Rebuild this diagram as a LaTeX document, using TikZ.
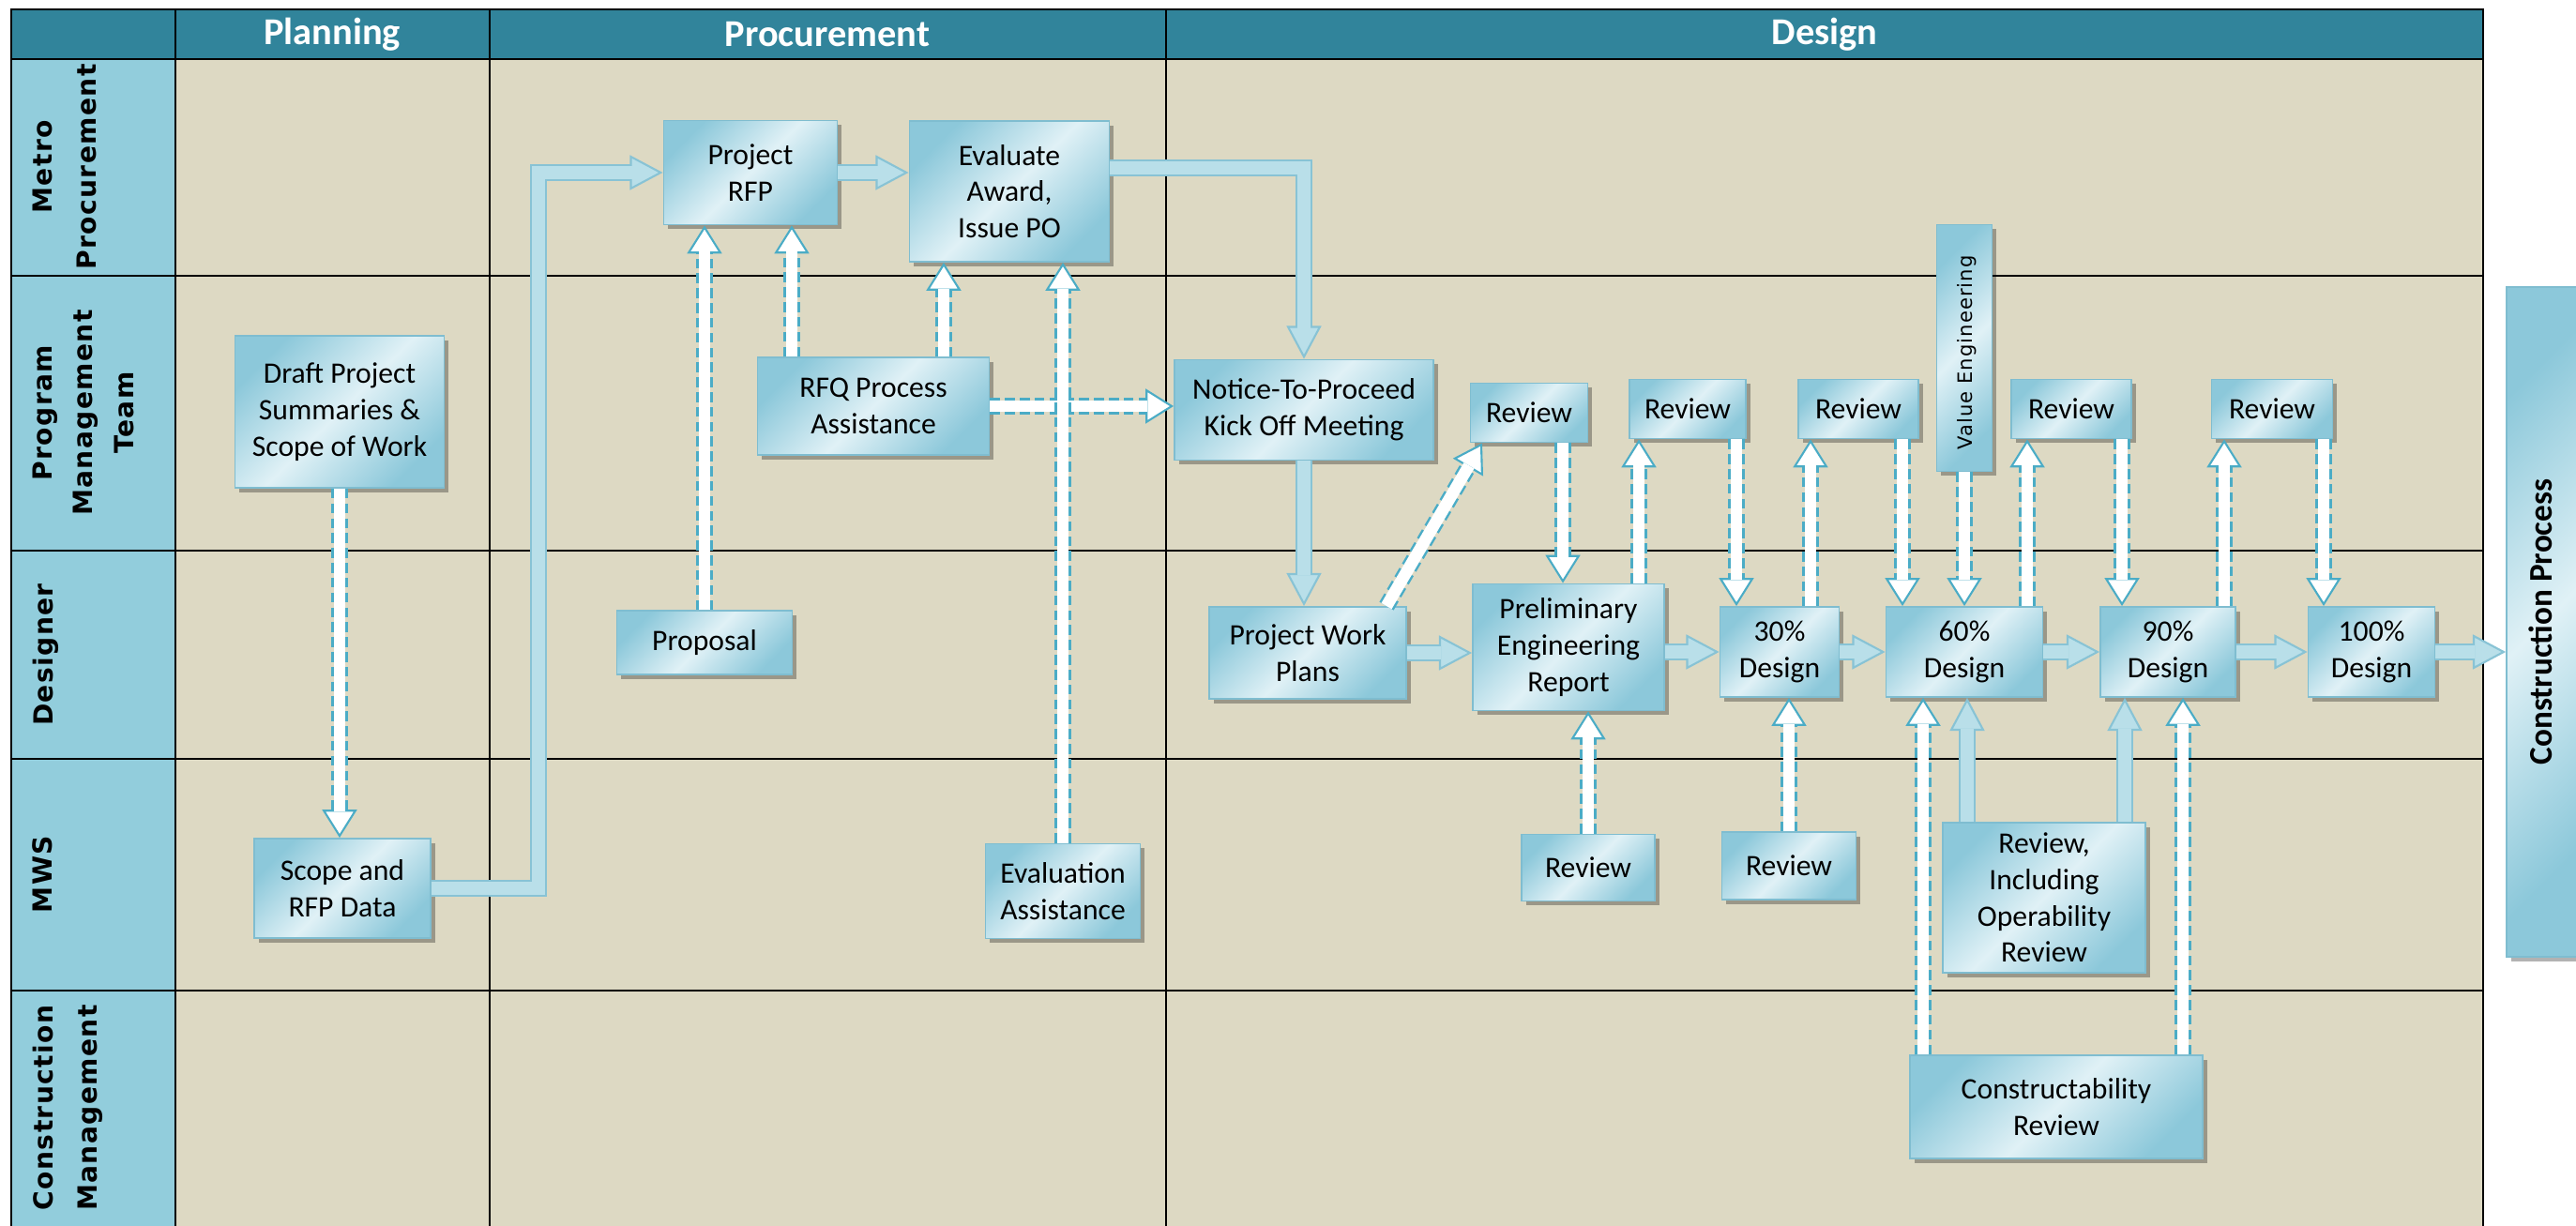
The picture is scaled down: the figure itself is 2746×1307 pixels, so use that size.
\documentclass[tikz,border=0pt]{standalone}
\usepackage{fontspec}
\setmainfont{Carlito}
\newfontfamily\lanefont[LetterSpace=5]{DejaVu Sans}
\usepackage{tikz}
\usetikzlibrary{arrows.meta}
\usetikzlibrary{shadows}
\definecolor{headteal}{HTML}{31849B}
\definecolor{lanecol}{HTML}{92CDDC}
\definecolor{tanbg}{HTML}{DDD9C3}
\definecolor{boxdk}{HTML}{8CC8DA}
\definecolor{boxlt}{HTML}{E0F1F6}
\definecolor{boxline}{HTML}{7FBDD0}
\definecolor{arrfill}{HTML}{B9DFE9}
\definecolor{arrline}{HTML}{88C3D5}
\definecolor{dashteal}{HTML}{4BACC6}
\tikzset{proc/.style = {draw = boxline, line width = 0.5pt, left color = boxdk, right color = boxdk,
    middle color = boxlt, shading angle = 45, inner sep = 0pt, align = center,
    font = \fontsize{9}{11}\selectfont,
    drop shadow = {shadow xshift = 1.3pt, shadow yshift = -1.3pt, fill = black, opacity = 0.3}}}
\tikzset{headtxt/.style = {text = white, font = \bfseries\fontsize{11.5}{13}\selectfont}}
\tikzset{lanelbl/.style = {rotate = 90, anchor = north, align = center, inner sep = 0pt,
    font = \lanefont\bfseries\fontsize{8}{13.4}\selectfont}}
\tikzset{solidarr/.style = {draw = arrline, line width = 5pt,
    -{Triangle[length = 10pt, width = 10.5pt, fill = arrfill, line width = 0.6pt]},
    postaction = {draw = arrfill, line width = 3.8pt, arrows = -, shorten > = 9.4pt}}}
\tikzset{dasharr/.style = {draw = dashteal, line width = 5pt, dash pattern = on 3pt off 1.5pt,
    -{Triangle[length = 8.5pt, width = 10.5pt, fill = white, line width = 0.6pt]},
    postaction = {draw = white, line width = 3.6pt, solid, arrows = -, shorten > = 7.9pt}}}

\begin{document}
\begin{tikzpicture}[x = 0.01cm, y = -0.01cm]
  \clip (0, 0) rectangle (2746, 1307);
  \fill[white] (0, 0) rectangle (2746, 1307);

  % swimlane table
  \fill[tanbg] (187, 63) rectangle (2647, 1320);
  \fill[lanecol] (12, 63) rectangle (187, 1320);
  \fill[headteal] (12, 10) rectangle (2647, 63);
  \draw[line width = 0.7pt] (12, 10) rectangle (2647, 1320);
  \draw[line width = 0.7pt] (12, 63) -- (2647, 63);
  \draw[line width = 0.7pt] (12, 294) -- (2647, 294);
  \draw[line width = 0.7pt] (12, 587) -- (2647, 587);
  \draw[line width = 0.7pt] (12, 809) -- (2647, 809);
  \draw[line width = 0.7pt] (12, 1056) -- (2647, 1056);
  \draw[line width = 0.7pt] (187, 10) -- (187, 1320);
  \draw[line width = 0.7pt] (522, 10) -- (522, 1320);
  \draw[line width = 0.7pt] (1243, 10) -- (1243, 1320);

  \node[headtxt] (hplanning) at (354, 37) {Planning};
  \node[headtxt] (hprocurement) at (882, 37) {Procurement};
  \node[headtxt] (hdesign) at (1945, 37) {Design};

  \node[lanelbl] (lmetro) at (34, 178) {Metro\\Procurement};
  \node[lanelbl, font = \lanefont\bfseries\fontsize{8}{12.4}\selectfont] (lpmt) at (34, 440) {Program\\Management\\Team};
  \node[lanelbl] (ldesigner) at (34, 698) {Designer};
  \node[lanelbl] (lmws) at (34, 932) {MWS};
  \node[lanelbl] (lcm) at (34, 1181) {Construction\\Management};

  % boxes
  \node[proc, minimum width = 2.23cm, minimum height = 1.62cm] (draft) at (362, 439) {Draft Project\\Summaries \&\\Scope of Work};
  \node[proc, minimum width = 1.88cm, minimum height = 1.06cm] (scope) at (365, 947) {Scope and\\RFP Data};
  \node[proc, minimum width = 1.85cm, minimum height = 1.11cm] (rfp) at (800, 184) {Project\\RFP};
  \node[proc, minimum width = 2.13cm, minimum height = 1.50cm] (evaluate) at (1076, 204) {Evaluate\\Award,\\Issue PO};
  \node[proc, minimum width = 2.47cm, minimum height = 1.04cm] (rfq) at (931, 433) {RFQ Process\\Assistance};
  \node[proc, minimum width = 1.87cm, minimum height = 0.68cm] (proposal) at (751, 685) {Proposal};
  \node[proc, minimum width = 1.65cm, minimum height = 1.01cm] (evalassist) at (1133, 950) {Evaluation\\Assistance};
  \node[proc, minimum width = 2.76cm, minimum height = 1.07cm] (ntp) at (1390, 437) {Notice-To-Proceed\\Kick Off Meeting};

  \node[proc, minimum width = 1.25cm, minimum height = 0.63cm] (rev1) at (1630, 440) {Review};
  \node[proc, minimum width = 1.24cm, minimum height = 0.63cm] (rev2) at (1799, 436) {Review};
  \node[proc, minimum width = 1.28cm, minimum height = 0.63cm] (rev3) at (1981, 436) {Review};
  \node[proc, minimum width = 0.59cm, minimum height = 2.63cm] (ve) at (2094, 371) {};
  \node[rotate = 90, inner sep = 0pt, font = \lanefont\fontsize{6}{7}\selectfont] (velbl) at (2097, 376) {Value Engineering};
  \node[proc, minimum width = 1.28cm, minimum height = 0.63cm] (rev4) at (2208, 436) {Review};
  \node[proc, minimum width = 1.29cm, minimum height = 0.63cm] (rev5) at (2422, 436) {Review};

  \node[proc, minimum width = 2.10cm, minimum height = 0.98cm] (pwp) at (1394, 696) {Project Work\\Plans};
  \node[proc, minimum width = 2.04cm, minimum height = 1.35cm] (per) at (1672, 690) {Preliminary\\Engineering\\Report};
  \node[proc, minimum width = 1.27cm, minimum height = 0.96cm] (d30) at (1897, 695) {30\%\\Design};
  \node[proc, minimum width = 1.67cm, minimum height = 0.96cm] (d60) at (2094, 695) {60\%\\Design};
  \node[proc, minimum width = 1.44cm, minimum height = 0.96cm] (d90) at (2311, 695) {90\%\\Design};
  \node[proc, minimum width = 1.35cm, minimum height = 0.96cm] (d100) at (2528, 695) {100\%\\Design};

  \node[proc, minimum width = 1.42cm, minimum height = 0.71cm] (mrev1) at (1693, 925) {Review};
  \node[proc, minimum width = 1.43cm, minimum height = 0.72cm] (mrev2) at (1907, 923) {Review};
  \node[proc, minimum width = 2.16cm, minimum height = 1.60cm] (oprev) at (2179, 957) {Review,\\Including\\Operability\\Review};
  \node[proc, minimum width = 3.12cm, minimum height = 1.10cm] (constr) at (2192, 1180) {Constructability\\Review};

  \node[proc, minimum width = 0.80cm, minimum height = 7.14cm] (cproc) at (2712, 663) {};
  \node[rotate = 90, inner sep = 0pt, font = \bfseries\fontsize{10}{12}\selectfont] (cproclbl) at (2708, 663) {Construction Process};

  % procurement arrows
  \draw[dasharr] (draft.south) -- (draft.south |- scope.north);
  \draw[solidarr] (scope.east) -| (574, 184) -- (rfp.west);
  \draw[solidarr] (rfp.east) -- (rfp.east -| evaluate.west);
  \draw[solidarr] (evaluate.east |- 0, 179) -| (ntp.north);
  \draw[dasharr] (844, 0 |- rfq.north) -- (844, 0 |- rfp.south);
  \draw[dasharr] (1006, 0 |- rfq.north) -- (1006, 0 |- evaluate.south);
  \draw[dasharr] (rfq.east) -- (rfq.east -| ntp.west);
  \draw[dasharr] (proposal.north) -- (proposal.north |- rfp.south);
  \draw[dasharr] (evalassist.north) -- (evalassist.north |- evaluate.south);

  % design arrows
  \draw[solidarr] (ntp.south) -- (ntp.south |- pwp.north);
  \draw[solidarr] (pwp.east) -- (pwp.east -| per.west);
  \draw[solidarr] (d30.west -| per.east) -- (d30.west);
  \draw[solidarr] (d30.east) -- (d60.west);
  \draw[solidarr] (d60.east) -- (d90.west);
  \draw[solidarr] (d90.east) -- (d100.west);
  \draw[solidarr] (d100.east) -- (d100.east -| cproc.west);

  \draw[dasharr] (1478, 0 |- pwp.north) -- (1580, 0 |- rev1.south);
  \draw[dasharr] (1666, 0 |- rev1.south) -- (1666, 0 |- per.north);
  \draw[dasharr] (1747, 0 |- per.north) -- (1747, 0 |- rev2.south);
  \draw[dasharr] (1851, 0 |- rev2.south) -- (1851, 0 |- d30.north);
  \draw[dasharr] (1930, 0 |- d30.north) -- (1930, 0 |- rev3.south);
  \draw[dasharr] (2028, 0 |- rev3.south) -- (2028, 0 |- d60.north);
  \draw[dasharr] (ve.south) -- (ve.south |- d60.north);
  \draw[dasharr] (2161, 0 |- d60.north) -- (2161, 0 |- rev4.south);
  \draw[dasharr] (2262, 0 |- rev4.south) -- (2262, 0 |- d90.north);
  \draw[dasharr] (2371, 0 |- d90.north) -- (2371, 0 |- rev5.south);
  \draw[dasharr] (2477, 0 |- rev5.south) -- (2477, 0 |- d100.north);

  \draw[dasharr] (mrev1.north) -- (mrev1.north |- per.south);
  \draw[dasharr] (mrev2.north) -- (mrev2.north |- d30.south);
  \draw[solidarr] (2097, 0 |- oprev.north) -- (2097, 0 |- d60.south);
  \draw[solidarr] (2265, 0 |- oprev.north) -- (2265, 0 |- d90.south);
  \draw[dasharr] (2050, 0 |- constr.north) -- (2050, 0 |- d60.south);
  \draw[dasharr] (2327, 0 |- constr.north) -- (2327, 0 |- d90.south);
\end{tikzpicture}
\end{document}
